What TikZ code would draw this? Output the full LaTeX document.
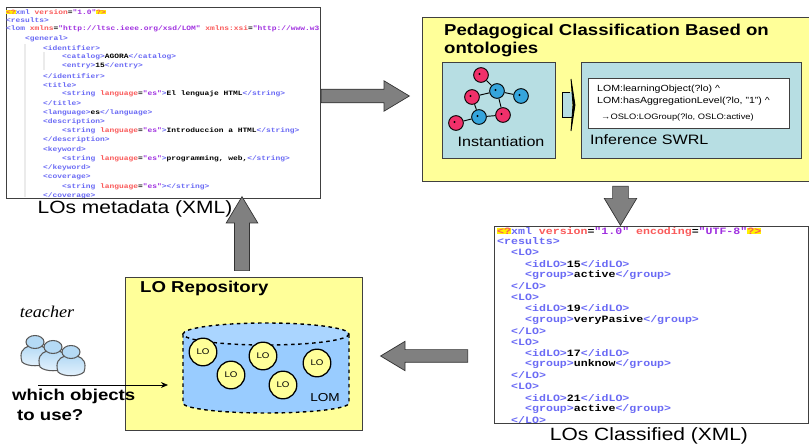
\documentclass[tikz,border=0pt]{standalone}
\usepackage{fontspec}
\setmainfont{Liberation Sans}[FakeStretch=1.18]
\setmonofont{Liberation Mono}[FakeStretch=1.2]
\newfontfamily\teacherfont{Liberation Serif}[FakeStretch=1.1]
\usetikzlibrary{shapes.arrows,arrows.meta}
\definecolor{boxyellow}{HTML}{FFFF99}
\definecolor{boxteal}{HTML}{B7DEE3}
\definecolor{cylblue}{HTML}{99CCFF}
\definecolor{cyltop}{HTML}{AAD5FF}
\definecolor{arrowgray}{HTML}{808080}
\definecolor{molred}{HTML}{F0306A}
\definecolor{molblue}{HTML}{35A5DC}
\definecolor{tagblue}{HTML}{6A6AF5}
\definecolor{attrred}{HTML}{FA5A5A}
\definecolor{valviolet}{HTML}{A030E0}
\definecolor{persontop}{HTML}{B5DAF5}
\definecolor{personlow}{HTML}{E6F3FD}
\newcommand{\xtag}[1]{\textcolor{tagblue}{#1}}
\newcommand{\xattr}[1]{\textcolor{attrred}{#1}}
\newcommand{\xval}[1]{\textcolor{valviolet}{#1}}
\newcommand{\xtxt}[1]{\textcolor{black}{#1}}
\newcommand{\xmark}[1]{\colorbox{yellow}{\textcolor{attrred}{#1}}}
\setlength{\fboxsep}{0pt}
\tikzset{
	panel/.style={draw=black!75,line width=0.8pt},
	bigarrow/.style={shape=single arrow,anchor=tail,draw=black!80,fill=arrowgray,line width=0.6pt,inner sep=0pt,text depth=0pt,single arrow tip angle=62},
	metaline/.style={anchor=west,inner sep=0pt,font=\ttfamily\bfseries\fontsize{5.6}{7}\selectfont},
	classline/.style={anchor=west,inner sep=0pt,font=\ttfamily\bfseries\fontsize{8.2}{9}\selectfont},
	caption/.style={font=\fontsize{15.1}{17}\selectfont},
	heading/.style={anchor=west,inner sep=0pt,font=\bfseries\fontsize{13.4}{15}\selectfont},
	atom/.style={circle,draw=black,line width=0.8pt,minimum size=12.5pt,inner sep=0pt},
	lonode/.style={circle,draw=black,line width=1.1pt,fill=boxyellow,minimum size=23.5pt,inner sep=0pt,font=\fontsize{7}{8}\selectfont},
	person/.pic={
		\draw[draw=black!65,line width=0.9pt,top color=persontop,bottom color=personlow]
			(-13,20) .. controls (-16,10) and (-12,6) .. (-6,4) -- (6,4) .. controls (12,6) and (16,10) .. (13,20)
			.. controls (8,25) and (-8,25) .. (-13,20) -- cycle;
		\draw[draw=black!65,line width=0.9pt,fill=persontop] (0,0) ellipse (9 and 6.5);
	}
}
\begin{document}
\begin{tikzpicture}[x=0.85pt,y=-0.85pt]
	\useasboundingbox (0,0) rectangle (809,447);
	% LOs metadata
	\draw[panel,fill=white] (6,7) rectangle (320,198);
	\fill[black!8] (24,44) rectangle (25.5,197);
	\fill[black!8] (43,52) rectangle (44.5,70);
	\begin{scope}
	\clip (6,7) rectangle (320,198);
	\foreach \xx/\yy/\txt [count=\i] in {
		6/12/{\xmark{<?}\xtag{xml} \xattr{version}=\xval{"1.0"}\xmark{?>}},
		6/20/{\xtag{<results>}},
		6/29/{\xtag{<lom }\xattr{xmlns}=\xval{"http://ltsc.ieee.org/xsd/LOM"} \xattr{xmlns:xsi}=\xval{"http://www.w3.org"}},
		25/39/{\xtag{<general>}},
		43/48/{\xtag{<identifier>}},
		62/57/{\xtag{<catalog>}\xtxt{AGORA}\xtag{</catalog>}},
		62/66/{\xtag{<entry>}\xtxt{15}\xtag{</entry>}},
		43/76/{\xtag{</identifier>}},
		43/85/{\xtag{<title>}},
		62/94/{\xtag{<string }\xattr{language}=\xval{"es"}\xtag{>}\xtxt{El lenguaje HTML}\xtag{</string>}},
		43/103/{\xtag{</title>}},
		43/113/{\xtag{<language>}\xtxt{es}\xtag{</language>}},
		43/122/{\xtag{<description>}},
		62/131/{\xtag{<string }\xattr{language}=\xval{"es"}\xtag{>}\xtxt{Introduccion a HTML}\xtag{</string>}},
		43/140/{\xtag{</description>}},
		43/150/{\xtag{<keyword>}},
		62/159/{\xtag{<string }\xattr{language}=\xval{"es"}\xtag{>}\xtxt{programming, web,}\xtag{</string>}},
		43/168/{\xtag{</keyword>}},
		43/177/{\xtag{<coverage>}},
		62/187/{\xtag{<string }\xattr{language}=\xval{"es"}\xtag{></string>}},
		43/196/{\xtag{</coverage>}}}
	\node[metaline] (meta\i) at (\xx,\yy) {\txt};
	\end{scope}
	\node[caption] (metacaption) at (135,209) {LOs metadata (XML)};
	% Pedagogical classification
	\fill[boxyellow] (422,17) rectangle (809,181);
	\draw[panel] (809,17) -- (422,17) -- (422,181) -- (809,181);
	\node[heading] (classtitle) at (444,31) {Pedagogical Classification Based on};
	\node[heading] (classtitleb) at (444,49) {ontologies};
	\draw[panel,fill=boxteal] (442,62) rectangle (555,158);
	\draw[panel,fill=boxteal] (581,62) rectangle (801,158);
	\draw[panel,fill=white] (588,78) rectangle (789,128);
	% Molecule
	\foreach \name/\xx/\yy/\col in {ra/481/75/molred,ba/497/91/molblue,bb/521/96/molblue,rb/472/97/molred,
		bc/479/117/molblue,rc/503/115/molred,rd/456/123/molred}{
		\node[atom,fill=\col] (\name) at (\xx,\yy) {};
		\fill[black] (\xx-1.5,\yy-1) circle (1.1);
	}
	\foreach \from/\to in {ra/ba,ba/bb,ba/rb,ba/rc,rb/bc,bc/rc,bc/rd}
	\draw[line width=0.8pt] (\from) -- (\to);
	\node[font=\fontsize{11.6}{13}\selectfont] (instlabel) at (501,142) {Instantiation};
	\node[anchor=west,inner sep=0pt,font=\fontsize{11.6}{13}\selectfont] (swrllabel) at (590,140) {Inference SWRL};
	% small arrow between panels
	\draw[line width=0.7pt,fill=boxteal] (572,92) -- (562,92) -- (562,117) -- (572,117);
	\fill[boxteal] (570,92) rectangle (572,117);
	\draw[line width=0.7pt,fill=black] (571,79) -- (575,105) -- (571,131) -- (573,105) -- cycle;
	% Rule text
	\node[anchor=west,inner sep=0pt,font=\fontsize{7.6}{9}\selectfont] (rulea) at (597,89) {LOM:learningObject(?lo) \textasciicircum};
	\node[anchor=west,inner sep=0pt,font=\fontsize{7.6}{9}\selectfont] (ruleb) at (597,101) {LOM:hasAggregationLevel(?lo, "1") \textasciicircum};
	\node[anchor=west,inner sep=0pt,font=\fontsize{6.7}{8}\selectfont] (rulec) at (601,117) {→OSLO:LOGroup(?lo, OSLO:active)};
	% LOs classified
	\draw[panel,fill=white] (494,226) rectangle (808,423);
	\begin{scope}
	\clip (494,226) rectangle (808,423);
	\foreach \xx/\yy/\txt [count=\i] in {
		497/232/{\xmark{<?}\xtag{xml} \xattr{version}=\xval{"1.0"} \xattr{encoding}=\xval{"UTF-8"}\xmark{?>}},
		497/241/{\xtag{<results>}},
		511/252/{\xtag{<LO>}},
		525/264/{\xtag{<idLO>}\xtxt{15}\xtag{</idLO>}},
		525/275/{\xtag{<group>}\xtxt{active}\xtag{</group>}},
		511/286/{\xtag{</LO>}},
		511/297/{\xtag{<LO>}},
		525/308/{\xtag{<idLO>}\xtxt{19}\xtag{</idLO>}},
		525/320/{\xtag{<group>}\xtxt{veryPasive}\xtag{</group>}},
		511/331/{\xtag{</LO>}},
		511/342/{\xtag{<LO>}},
		525/353/{\xtag{<idLO>}\xtxt{17}\xtag{</idLO>}},
		525/364/{\xtag{<group>}\xtxt{unknow}\xtag{</group>}},
		511/375/{\xtag{</LO>}},
		511/386/{\xtag{<LO>}},
		525/398/{\xtag{<idLO>}\xtxt{21}\xtag{</idLO>}},
		525/409/{\xtag{<group>}\xtxt{active}\xtag{</group>}},
		511/420/{\xtag{</LO>}}}
	\node[classline] (class\i) at (\xx,\yy) {\txt};
	\end{scope}
	\node[caption] (classcaption) at (649,436) {LOs Classified (XML)};
	% LO repository
	\draw[panel,fill=boxyellow] (125,277) rectangle (362,430);
	\node[heading] (repotitle) at (140,288) {LO Repository};
	\draw[line width=1.2pt,dashed,fill=cylblue] (183,334) -- (183,403) arc[start angle=180,end angle=0,x radius=83,y radius=10] -- (349,334);
	\draw[line width=1.2pt,dashed,fill=cyltop] (266,334) ellipse (83 and 11);
	\foreach \xx/\yy [count=\i] in {203/352,263/356,231/375,283/385,317/363}
	\node[lonode] (lo\i) at (\xx,\yy) {LO};
	\node[font=\fontsize{9.8}{11}\selectfont] (lomlabel) at (325,398) {LOM};
	% Teacher
	\node[font=\teacherfont\itshape\fontsize{14}{16}\selectfont] (teacherlabel) at (47,312) {teacher};
	\pic at (35,342) {person};
	\pic at (53,347) {person};
	\pic at (71,352) {person};
	\coordinate (questionstart) at (38,385);
	\coordinate (questionend) at (168,385);
	\draw[-{Stealth[length=6pt,width=5pt]},line width=0.6pt] (questionstart) -- (questionend);
	\node[heading] (questiona) at (12,396) {which objects};
	\node[heading] (questionb) at (17,415) {to use?};
	% Big arrows
	\node[bigarrow,text height=11pt,minimum height=74.8pt,minimum width=20.4pt] (toclass) at (321,96) {};
	\node[bigarrow,rotate=-90,text height=12.8pt,minimum height=33.2pt,minimum width=23pt] (toresult) at (620.5,186) {};
	\node[bigarrow,rotate=180,text height=10.2pt,minimum height=74pt,minimum width=19.6pt] (torepo) at (468,356) {};
	\node[bigarrow,rotate=90,text height=12pt,minimum height=62.9pt,minimum width=23pt] (tometa) at (242,271) {};
\end{tikzpicture}
\end{document}
